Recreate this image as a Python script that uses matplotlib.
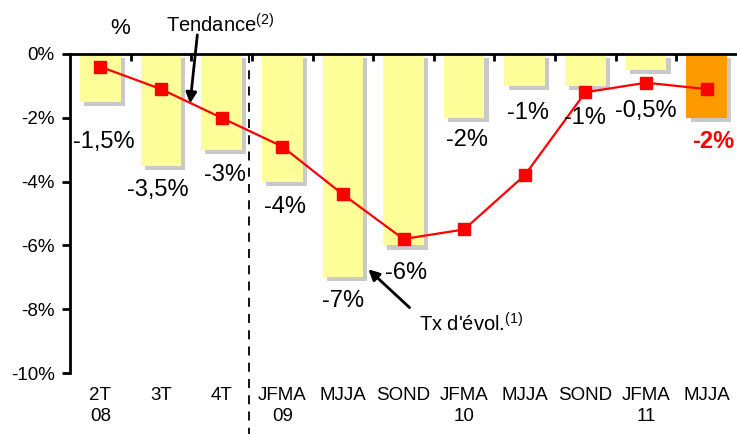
import matplotlib.pyplot as plt
import matplotlib.patheffects as pe
import numpy as np

plt.rcParams['font.family'] = ['Liberation Sans', 'DejaVu Sans']
plt.rcParams['mathtext.default'] = 'regular'

categories = ['2T\n08', '3T', '4T', 'JFMA\n09', 'MJJA', 'SOND', 'JFMA\n10', 'MJJA', 'SOND', 'JFMA\n11', 'MJJA']
bar_values = [-1.5, -3.5, -3, -4, -7, -6, -2, -1, -1, -0.5, -2]
trend_values = [-0.4, -1.1, -2.0, -2.9, -4.4, -5.8, -5.5, -3.8, -1.2, -0.9, -1.1]
bar_labels = ['-1,5%', '-3,5%', '-3%', '-4%', '-7%', '-6%', '-2%', '-1%', '-1%', '-0,5%', '-2%']
label_y = [-2.75, -4.25, -3.8, -4.8, -7.75, -6.85, -2.7, -1.85, -2.0, -1.8, -2.75]
label_dx = [0.05, -0.05, 0.05, 0.05, 0.0, 0.05, 0.05, 0.05, 0.0, 0.0, 0.1]
y_ticks = [0, -2, -4, -6, -8, -10]

fig = plt.figure(figsize=(7.37, 4.34), dpi=100)
ax = fig.add_axes([70 / 737, 61 / 434, 667 / 737, 319 / 434])

x = np.arange(len(categories))
colors = ['#FFFF99'] * (len(x) - 1) + ['#FF9900']
bars = ax.bar(x, bar_values, width=0.67, color=colors, zorder=2)
for b in bars:
    b.set_path_effects([pe.SimplePatchShadow(offset=(3, -3), shadow_rgbFace='#888888', alpha=0.45), pe.Normal()])

ax.plot(x, trend_values, color='#FF0000', lw=1.6, marker='s', ms=8.5, zorder=4)

for i, (lab, ly) in enumerate(zip(bar_labels, label_y)):
    if i == len(x) - 1:
        ax.text(x[i] + label_dx[i], ly, lab, ha='center', va='center', fontsize=17, color='#FF0000', fontweight='bold', zorder=5)
    else:
        ax.text(x[i] + label_dx[i], ly, lab, ha='center', va='center', fontsize=17, color='black', zorder=5)

ax.set_xlim(-0.5, 10.5)
ax.set_ylim(-10, 0)
ax.set_yticks(y_ticks)
ax.set_yticklabels([f'{v}%' for v in y_ticks], fontsize=13.5)
ax.set_xticks(x)
ax.set_xticklabels(categories, fontsize=13.5, linespacing=1.32)
ax.set_xticks(np.arange(0.5, 10.5, 1), minor=True)
ax.tick_params(axis='x', which='major', length=0, pad=10, bottom=True, top=False)
ax.tick_params(axis='x', which='minor', length=5, width=2, direction='in', top=True, bottom=False)
ax.tick_params(axis='y', length=6, width=2, direction='out', pad=5)
for s in ['bottom', 'right']:
    ax.spines[s].set_visible(False)
ax.spines['top'].set_linewidth(2)
ax.spines['left'].set_linewidth(2)

ax.plot([2.45, 2.45], [0, -12.5], color='black', ls=(0, (5, 4)), lw=1.3, clip_on=False, zorder=3)

ax.text(0.33, 0.8, '%', fontsize=16, ha='center', va='center')
ax.text(1.97, 0.9, 'Tendance$^{(2)}$', fontsize=14.5, ha='center', va='center')
ax.annotate('', xy=(1.48, -1.55), xytext=(1.6, 0.6),
            arrowprops=dict(arrowstyle='-|>', color='black', lw=2, mutation_scale=16, shrinkA=0, shrinkB=0),
            annotation_clip=False)
ax.text(6.12, -8.45, "Tx d'évol.$^{(1)}$", fontsize=14.5, ha='center', va='center')
ax.annotate('', xy=(4.42, -6.75), xytext=(5.1, -7.95),
            arrowprops=dict(arrowstyle='-|>', color='black', lw=2, mutation_scale=16, shrinkA=0, shrinkB=0),
            annotation_clip=False)

fig.savefig('out.png', dpi=100)
